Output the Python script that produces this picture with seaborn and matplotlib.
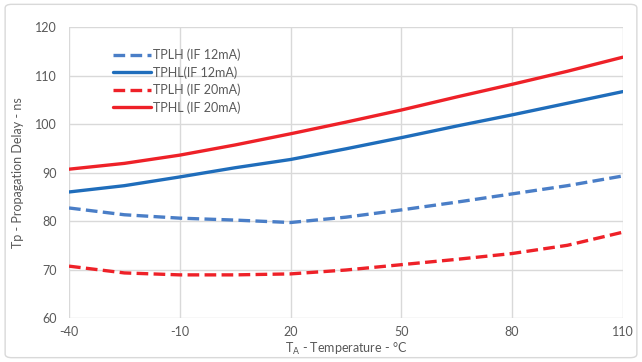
import numpy as np
import pandas as pd
import matplotlib
matplotlib.use("Agg")
import matplotlib.pyplot as plt
import seaborn as sns
from matplotlib.patches import FancyBboxPatch

temps = [-40, -25, -10, 5, 20, 35, 50, 65, 80, 95, 110]
tplh_12 = [82.7, 81.3, 80.6, 80.2, 79.7, 80.8, 82.3, 83.9, 85.6, 87.3, 89.3]
tphl_12 = [86.0, 87.3, 89.1, 91.0, 92.7, 94.9, 97.2, 99.6, 101.9, 104.3, 106.7]
tplh_20 = [70.7, 69.3, 68.9, 68.9, 69.1, 69.9, 71.0, 72.1, 73.3, 75.0, 77.7]
tphl_20 = [90.7, 91.9, 93.6, 95.7, 98.0, 100.4, 102.9, 105.6, 108.2, 110.9, 113.8]
labels = ["TPLH (IF 12mA)", "TPHL(IF 12mA)", "TPLH (IF 20mA)", "TPHL (IF 20mA)"]
colors = ["#4A7EC7", "#1F6DBB", "#EE2128", "#EE2128"]
x_ticks = [-40, -10, 20, 50, 80, 110]
y_ticks = [60, 70, 80, 90, 100, 110, 120]

series = [tplh_12, tphl_12, tplh_20, tphl_20]
df = pd.concat([pd.DataFrame({"T": temps, "v": s, "series": lab})
                for s, lab in zip(series, labels)], ignore_index=True)

sns.set_theme(style="white")
plt.rcParams['font.family'] = ['Lato', 'DejaVu Sans']
plt.rcParams['axes.unicode_minus'] = False

fig = plt.figure(figsize=(6.42, 3.62), dpi=100)
ax = fig.add_axes([0.1075, 0.1215, 0.8625, 0.8035])

dash_map = {labels[0]: (3.5, 1.6), labels[1]: "", labels[2]: (3.5, 1.6), labels[3]: ""}
sns.lineplot(data=df, x="T", y="v", hue="series", style="series",
             palette=dict(zip(labels, colors)), dashes=dash_map,
             linewidth=2.4, ax=ax, legend=True)

ax.set_xlim(-40, 110)
ax.set_ylim(60, 120)
ax.set_xticks(x_ticks)
ax.set_yticks(y_ticks)
ax.grid(True, color="#D9D9D9", linewidth=1.0)
ax.set_axisbelow(True)
for sp in ax.spines.values():
    sp.set_visible(False)
ax.tick_params(axis="both", length=0, labelsize=9, colors="#595959")
ax.tick_params(axis="x", pad=6)
ax.tick_params(axis="y", pad=9)
ax.set_xlabel("T$_\\mathrm{A}$ - Temperature - °C", fontsize=9, color="#595959", labelpad=2)
ax.set_ylabel("Tp - Propagation Delay - ns", fontsize=9, color="#595959", labelpad=8)

leg = ax.legend(loc="upper left", bbox_to_anchor=(0.06, 0.965), frameon=False,
                fontsize=9, handlelength=3.0, handletextpad=0.2,
                labelspacing=0.4, labelcolor="#595959")

fig.patches.append(FancyBboxPatch((0.008, 0.012), 0.984, 0.976,
                                  boxstyle="round,pad=0,rounding_size=0.01",
                                  transform=fig.transFigure, fill=False,
                                  edgecolor="#D9D9D9", linewidth=1.0))

fig.savefig("out.png", dpi=100)
